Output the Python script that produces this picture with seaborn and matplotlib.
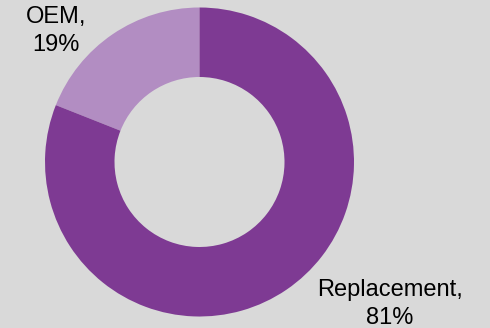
import matplotlib
matplotlib.use("Agg")
import matplotlib.pyplot as plt
import seaborn as sns

categories = ["OEM", "Replacement"]
shares = [19, 81]
colors = ["#B28DC2", "#7E3A93"]

sns.set_theme(style="white")
plt.rcParams['font.family'] = ['Liberation Sans', 'DejaVu Sans']

W, H = 490, 328
fig = plt.figure(figsize=(W / 100, H / 100), dpi=100, facecolor="#D9D9D9")
ax = fig.add_axes([0, 0, 1, 1])
ax.set_facecolor("#D9D9D9")

cx, cy, R, r_in = 199.5, H - 162, 154.5, 85
ax.pie(shares, colors=colors, startangle=90, counterclock=True,
       radius=R, center=(cx, cy),
       wedgeprops=dict(width=R - r_in, linewidth=0))

label_pos = [(56, H - 31), (389.5, H - 304)]
for cat, val, (lx, ly) in zip(categories, shares, label_pos):
    ax.text(lx, ly, f"{cat},\n{val}%", ha="center", va="center",
            fontsize=17, color="black", linespacing=1.3)

ax.set_xlim(0, W)
ax.set_ylim(0, H)
ax.set_aspect("equal")
ax.axis("off")
fig.savefig("out.png", dpi=100, facecolor=fig.get_facecolor())
